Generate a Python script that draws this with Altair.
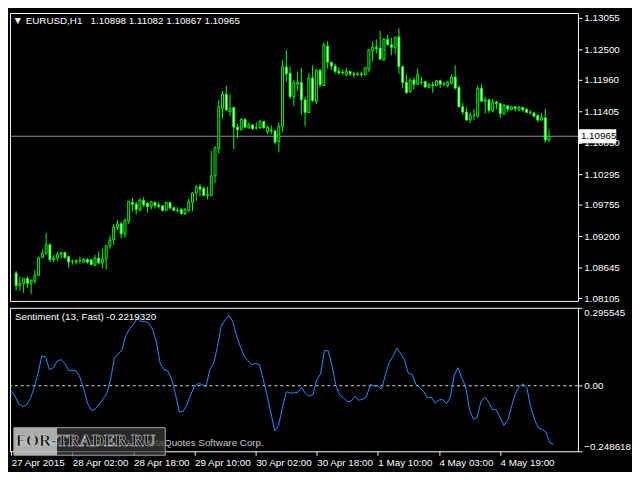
import altair as alt
import pandas as pd
import numpy as np

FONT = "Liberation Sans"
LIME = "#00ff00"

# ---------------- data ----------------
bars = list(range(143))

opens = [
    1.08548, 1.08326, 1.08366, 1.08449, 1.08366, 1.08409, 1.08509, 1.08824, 1.08898, 1.09047,
    1.08786, 1.08814, 1.08881, 1.08908, 1.08836, 1.08753, 1.08741, 1.08770, 1.08741, 1.08786,
    1.08781, 1.08686, 1.08814, 1.08725, 1.08798, 1.09031, 1.09140, 1.09352, 1.09418, 1.09240,
    1.09463, 1.09796, 1.09767, 1.09656, 1.09829, 1.09779, 1.09722, 1.09796, 1.09751, 1.09734,
    1.09656, 1.09796, 1.09701, 1.09656, 1.09672, 1.09601, 1.09656, 1.09796, 1.09962, 1.10072,
    1.10045, 1.09917, 1.09917, 1.10266, 1.10748, 1.11458, 1.11708, 1.11402, 1.11475, 1.11126,
    1.11081, 1.11264, 1.11114, 1.11164, 1.11114, 1.11114, 1.11226, 1.11043, 1.11076, 1.11059,
    1.10876, 1.11136, 1.12190, 1.12079, 1.11663, 1.11884, 1.11912, 1.11608, 1.11385, 1.11995,
    1.11580, 1.12133, 1.11862, 1.12556, 1.12273, 1.12207, 1.12112, 1.12084, 1.12050, 1.12107,
    1.12067, 1.12057, 1.12067, 1.12050, 1.12150, 1.12473, 1.12539, 1.12523, 1.12316, 1.12677,
    1.12582, 1.12539, 1.12722, 1.12195, 1.11917, 1.11751, 1.11957, 1.11884, 1.11917, 1.11929,
    1.11829, 1.11874, 1.11862, 1.11946, 1.11884, 1.11862, 1.11901, 1.12012, 1.11829, 1.11485,
    1.11392, 1.11252, 1.11335, 1.11319, 1.11808, 1.11585, 1.11608, 1.11418, 1.11568, 1.11541,
    1.11364, 1.11502, 1.11442, 1.11485, 1.11430, 1.11475, 1.11442, 1.11385, 1.11375, 1.11330,
    1.11252, 1.11292, 1.10898,
]
highs = [
    1.08582, 1.08482, 1.08465, 1.08492, 1.08437, 1.08603, 1.08836, 1.08964, 1.09252, 1.09074,
    1.08869, 1.08924, 1.08924, 1.08924, 1.08853, 1.08786, 1.08786, 1.08836, 1.08814, 1.08814,
    1.08798, 1.08869, 1.08924, 1.08981, 1.09036, 1.09214, 1.09418, 1.09480, 1.09451, 1.09518,
    1.09817, 1.09879, 1.09806, 1.09862, 1.09895, 1.09796, 1.09822, 1.09812, 1.09796, 1.09751,
    1.09806, 1.09806, 1.09722, 1.09712, 1.09696, 1.09696, 1.09862, 1.09972, 1.10100, 1.10128,
    1.10072, 1.10072, 1.10710, 1.10782, 1.11613, 1.11763, 1.11857, 1.11708, 1.11475, 1.11181,
    1.11280, 1.11280, 1.11209, 1.11181, 1.11209, 1.11247, 1.11236, 1.11152, 1.11152, 1.11069,
    1.11209, 1.12316, 1.12483, 1.12195, 1.11957, 1.12107, 1.12178, 1.11663, 1.12084, 1.12217,
    1.12150, 1.12150, 1.12622, 1.12649, 1.12273, 1.12250, 1.12178, 1.12140, 1.12178, 1.12123,
    1.12107, 1.12107, 1.12107, 1.12178, 1.12494, 1.12639, 1.12677, 1.12827, 1.12705, 1.12760,
    1.12705, 1.12732, 1.12872, 1.12217, 1.12057, 1.11984, 1.12012, 1.12162, 1.12012, 1.11946,
    1.11912, 1.11929, 1.11957, 1.11967, 1.11929, 1.11946, 1.12057, 1.12223, 1.11862, 1.11558,
    1.11475, 1.11385, 1.11447, 1.11862, 1.11891, 1.11663, 1.11625, 1.11625, 1.11596, 1.11551,
    1.11530, 1.11513, 1.11502, 1.11497, 1.11497, 1.11485, 1.11458, 1.11430, 1.11397, 1.11352,
    1.11375, 1.11447, 1.11082,
]
lows = [
    1.08242, 1.08237, 1.08199, 1.08282, 1.08176, 1.08354, 1.08492, 1.08814, 1.08869, 1.08741,
    1.08741, 1.08758, 1.08798, 1.08798, 1.08642, 1.08698, 1.08698, 1.08715, 1.08731, 1.08715,
    1.08686, 1.08670, 1.08715, 1.08632, 1.08612, 1.08974, 1.09047, 1.09307, 1.09157, 1.09174,
    1.09418, 1.09639, 1.09584, 1.09639, 1.09712, 1.09618, 1.09672, 1.09684, 1.09684, 1.09639,
    1.09639, 1.09672, 1.09646, 1.09618, 1.09573, 1.09573, 1.09629, 1.09639, 1.09822, 1.09895,
    1.09905, 1.09850, 1.09905, 1.10138, 1.10654, 1.11280, 1.11413, 1.11319, 1.10737, 1.10931,
    1.11069, 1.11114, 1.11097, 1.11081, 1.11081, 1.11097, 1.11097, 1.10998, 1.10998, 1.10820,
    1.10682, 1.11043, 1.11929, 1.11625, 1.11497, 1.11763, 1.11347, 1.11142, 1.11375, 1.11568,
    1.11530, 1.11829, 1.11862, 1.12162, 1.12140, 1.12067, 1.12050, 1.12050, 1.12029, 1.12029,
    1.12000, 1.12029, 1.12012, 1.12040, 1.12095, 1.12290, 1.12428, 1.12316, 1.12290, 1.12566,
    1.12399, 1.12416, 1.12067, 1.11817, 1.11718, 1.11734, 1.11791, 1.11874, 1.11874, 1.11829,
    1.11807, 1.11734, 1.11846, 1.11817, 1.11846, 1.11829, 1.11884, 1.11791, 1.11475, 1.11347,
    1.11236, 1.11197, 1.11252, 1.11292, 1.11568, 1.11364, 1.11375, 1.11385, 1.11447, 1.11285,
    1.11347, 1.11385, 1.11418, 1.11402, 1.11418, 1.11402, 1.11375, 1.11342, 1.11302, 1.11209,
    1.11236, 1.10850, 1.10867,
]
closes = [
    1.08326, 1.08366, 1.08449, 1.08366, 1.08420, 1.08509, 1.08814, 1.08898, 1.09047, 1.08786,
    1.08814, 1.08881, 1.08908, 1.08824, 1.08741, 1.08753, 1.08770, 1.08770, 1.08786, 1.08741,
    1.08698, 1.08814, 1.08725, 1.08798, 1.09031, 1.09130, 1.09363, 1.09418, 1.09240, 1.09473,
    1.09817, 1.09762, 1.09672, 1.09839, 1.09751, 1.09722, 1.09806, 1.09739, 1.09722, 1.09656,
    1.09796, 1.09696, 1.09656, 1.09651, 1.09601, 1.09672, 1.09806, 1.09962, 1.10072, 1.10028,
    1.09917, 1.09934, 1.10266, 1.10765, 1.11485, 1.11708, 1.11430, 1.11458, 1.11126, 1.11081,
    1.11264, 1.11126, 1.11164, 1.11097, 1.11114, 1.11226, 1.11114, 1.11126, 1.11059, 1.10860,
    1.11136, 1.12190, 1.12067, 1.11663, 1.11912, 1.11917, 1.11608, 1.11385, 1.11995, 1.11596,
    1.12133, 1.11874, 1.12577, 1.12273, 1.12207, 1.12112, 1.12084, 1.12095, 1.12107, 1.12067,
    1.12057, 1.12067, 1.12057, 1.12178, 1.12494, 1.12539, 1.12511, 1.12328, 1.12677, 1.12582,
    1.12539, 1.12705, 1.12195, 1.11917, 1.11734, 1.11957, 1.11884, 1.12057, 1.11912, 1.11834,
    1.11874, 1.11862, 1.11946, 1.11884, 1.11891, 1.11917, 1.12012, 1.11817, 1.11485, 1.11392,
    1.11252, 1.11335, 1.11330, 1.11808, 1.11585, 1.11608, 1.11418, 1.11568, 1.11541, 1.11364,
    1.11513, 1.11447, 1.11485, 1.11458, 1.11485, 1.11430, 1.11385, 1.11392, 1.11319, 1.11252,
    1.11292, 1.10898, 1.10965,
]
sentiment = [
    -0.0191, -0.0395, -0.0706, -0.0789, -0.0730, -0.0490, -0.0072, 0.0467, 0.1124, 0.1089,
    0.0610, 0.0682, 0.0921, 0.0993, 0.0849, 0.0586, 0.0586, 0.0562, 0.0323, -0.0132,
    -0.0670, -0.0945, -0.0885, -0.0706, -0.0514, -0.0311, 0.0227, 0.1041, 0.1208, 0.1364,
    0.1902, 0.2165, 0.2321, 0.2560, 0.2440, 0.2440, 0.2380, 0.2141, 0.1663, 0.0849,
    0.0610, 0.0562, 0.0251, -0.0311, -0.0993, -0.0969, -0.0730, -0.0347, -0.0012, 0.0084,
    0.0048, -0.0048, 0.0610, 0.0849, 0.1483, 0.2261, 0.2500, 0.2656, 0.2440, 0.1902,
    0.1483, 0.1124, 0.0945, 0.0801, 0.0849, 0.0801, 0.0227, -0.0371, -0.1029, -0.1711,
    -0.1507, -0.0849, -0.0227, -0.0275, -0.0275, -0.0251, -0.0072, -0.0275, -0.0395, -0.0335,
    0.0227, 0.0443, 0.1328, 0.1328, 0.0766, 0.0012, -0.0347, -0.0467, -0.0610, -0.0586,
    -0.0395, -0.0550, -0.0514, -0.0431, 0.0048, -0.0012, -0.0012, -0.0132, 0.0431, 0.0885,
    0.1124, 0.1423, 0.1208, 0.0969, 0.0467, 0.0431, 0.0036, -0.0072, -0.0227, -0.0467,
    -0.0431, -0.0658, -0.0538, -0.0526, -0.0682, -0.0431, 0.0407, 0.0682, 0.0287, -0.0036,
    -0.0909, -0.1268, -0.1208, -0.0610, -0.0431, -0.0610, -0.0909, -0.0909, -0.1208, -0.1507,
    -0.1328, -0.0789, -0.0311, -0.0036, 0.0072, -0.0072, -0.0789, -0.1268, -0.1591, -0.1651,
    -0.1746, -0.2165, -0.2219,
]

time_ticks = [0, 16, 32, 48, 64, 80, 96, 112, 128]
time_labels = ["27 Apr 2015", "28 Apr 02:00", "28 Apr 18:00", "29 Apr 10:00",
               "30 Apr 02:00", "30 Apr 18:00", "1 May 10:00", "4 May 03:00", "4 May 19:00"]
price_ticks = [1.13055, 1.12500, 1.11960, 1.11405, 1.10850, 1.10295, 1.09755,
               1.09200, 1.08645, 1.08105]
sent_ticks = [0.295545, 0.0, -0.248618]
last_price = 1.10965
symbol_title = "EURUSD,H1\u00a0\u00a0 1.10898 1.11082 1.10867 1.10965"
ind_title = "Sentiment (13, Fast) -0.2219320"
copyright_text = "MetaTrader 4, \u00a9 2001-2014, MetaQuotes Software Corp."
watermark = "FOR-TRADER.RU"

# ---------------- layout ----------------
W = 578
H1 = 293
H2 = 146

df = pd.DataFrame({"bar": bars, "open": opens, "high": highs, "low": lows, "close": closes})
df["top"] = df[["open", "close"]].max(axis=1)
df["bot"] = df[["open", "close"]].min(axis=1)
df["kind"] = np.where(df["close"] >= df["open"], "bull", "bear")

sdf = pd.DataFrame({"bar": bars, "sent": sentiment})

xscale = alt.Scale(domain=[-0.33, 148.4], nice=False, zero=False)
pscale = alt.Scale(domain=[1.08055, 1.13143], nice=False, zero=False)
sscale = alt.Scale(domain=[-0.248618, 0.295545], nice=False, zero=False)

price_axis = alt.Axis(orient="right", values=price_ticks, format=".5f", title=None,
                      grid=False, domain=False, ticks=True, tickColor="white",
                      tickSize=4, labelColor="white", labelFont=FONT, labelFontSize=10,
                      labelPadding=2, labelOverlap=False)
sent_axis = alt.Axis(orient="right", values=sent_ticks, title=None, grid=False,
                     domain=False, ticks=True, tickColor="white", tickSize=4,
                     labelColor="white", labelFont=FONT, labelFontSize=10,
                     labelPadding=2, labelFlush=True, labelOverlap=False,
                     labelExpr="datum.value == 0 ? '0.00' : format(datum.value, '.6f')")
lbl_arr = "[" + ",".join("'%s'" % s for s in time_labels) + "]"
time_axis = alt.Axis(values=time_ticks, title=None, grid=False, domain=False,
                     ticks=True, tickColor="white", tickSize=4, labelAlign="left",
                     labelColor="white", labelFont=FONT, labelFontSize=10,
                     labelPadding=2, labelOverlap=False, labelFlush=False,
                     labelExpr=lbl_arr + "[round(datum.value / 16)]")


def py(field):
    return alt.Y(field + ":Q", scale=pscale, axis=price_axis, title=None)


def sy(field):
    return alt.Y(field + ":Q", scale=sscale, axis=sent_axis, title=None)


xm = alt.X("bar:Q", scale=xscale, axis=None, title=None)

base = alt.Chart(df)
pdf = pd.DataFrame({"p": [last_price]})

price_line = alt.Chart(pdf).mark_rule(color="#8a97a8", strokeWidth=1).encode(y=py("p"))
wicks = base.mark_rule(color=LIME, strokeWidth=1).encode(x=xm, y=py("low"), y2="high")
bodies = base.mark_bar(size=2, stroke=LIME, strokeWidth=1).encode(
    x=xm, y=py("bot"), y2="top",
    fill=alt.Fill("kind:N", scale=alt.Scale(domain=["bull", "bear"], range=["#000000", "#ffffff"]),
                  legend=None))
price_box = alt.Chart(pdf).mark_tick(orient="horizontal", size=38, thickness=14,
                                     color="white", opacity=1).encode(
    x=alt.value(W + 20), y=py("p"))
price_txt = alt.Chart(pdf).mark_text(align="left", baseline="middle", color="black",
                                     font=FONT, fontSize=10).encode(
    x=alt.value(W + 3), y=py("p"), text=alt.Text("p:Q", format=".5f"))
tri = alt.Chart(pd.DataFrame({"t": ["\u25bc"]})).mark_text(
    align="center", baseline="middle", color="white", font="DejaVu Sans", fontSize=8).encode(
    x=alt.value(8), y=alt.value(8), text="t:N")
title_txt = alt.Chart(pd.DataFrame({"t": [symbol_title]})).mark_text(
    align="left", baseline="middle", color="white", font=FONT, fontSize=10).encode(
    x=alt.value(16), y=alt.value(8), text="t:N")

main = alt.layer(price_line, wicks, bodies, price_box, price_txt, tri, title_txt).properties(
    width=W, height=H1)

xs = alt.X("bar:Q", scale=xscale, axis=time_axis, title=None)
zero_rule = alt.Chart(pd.DataFrame({"z": [0.0]})).mark_rule(
    color="#d8d8d8", strokeDash=[3, 3], strokeWidth=1).encode(y=sy("z"))
sent_line = alt.Chart(sdf).mark_line(color="#1e90ff", strokeWidth=1).encode(x=xs, y=sy("sent"))
sub_title = alt.Chart(pd.DataFrame({"t": [ind_title]})).mark_text(
    align="left", baseline="middle", color="white", font=FONT, fontSize=10).encode(
    x=alt.value(5), y=alt.value(9), text="t:N")
copy_txt = alt.Chart(pd.DataFrame({"t": [copyright_text]})).mark_text(
    align="left", baseline="middle", color="#c8c8c8", font=FONT, fontSize=10).encode(
    x=alt.value(6), y=alt.value(138), text="t:N")
one = pd.DataFrame({"a": [0]})
wm_left = alt.Chart(one).mark_rect(color="#c4c4c4", opacity=0.88).encode(
    x=alt.value(4), x2=alt.value(48), y=alt.value(122), y2=alt.value(150))
wm_right = alt.Chart(one).mark_rect(color="#3a3a3a", opacity=0.7).encode(
    x=alt.value(48), x2=alt.value(158), y=alt.value(122), y2=alt.value(150))
wm_frame = alt.Chart(one).mark_rect(fill="transparent", stroke="#a8a8a8", strokeWidth=1).encode(
    x=alt.value(4), x2=alt.value(158), y=alt.value(122), y2=alt.value(150))
wm_txt = alt.Chart(pd.DataFrame({"t": [watermark]})).mark_text(
    align="left", baseline="middle", color="#080808", stroke="#dcdcdc", strokeWidth=0.6,
    font="Liberation Serif", fontWeight="bold", fontSize=17).encode(
    x=alt.value(6), y=alt.value(136), text="t:N")

sub = alt.layer(zero_rule, sent_line, sub_title, copy_txt, wm_left, wm_right, wm_frame,
                wm_txt).properties(width=W, height=H2)

chart = alt.vconcat(main, sub, spacing=3).configure(
    background="black", padding={"left": 0, "top": 0, "right": 0, "bottom": 0}
).configure_view(stroke="white", strokeWidth=1)

chart.save("out.html", embed_options={"renderer": "svg", "actions": False})
